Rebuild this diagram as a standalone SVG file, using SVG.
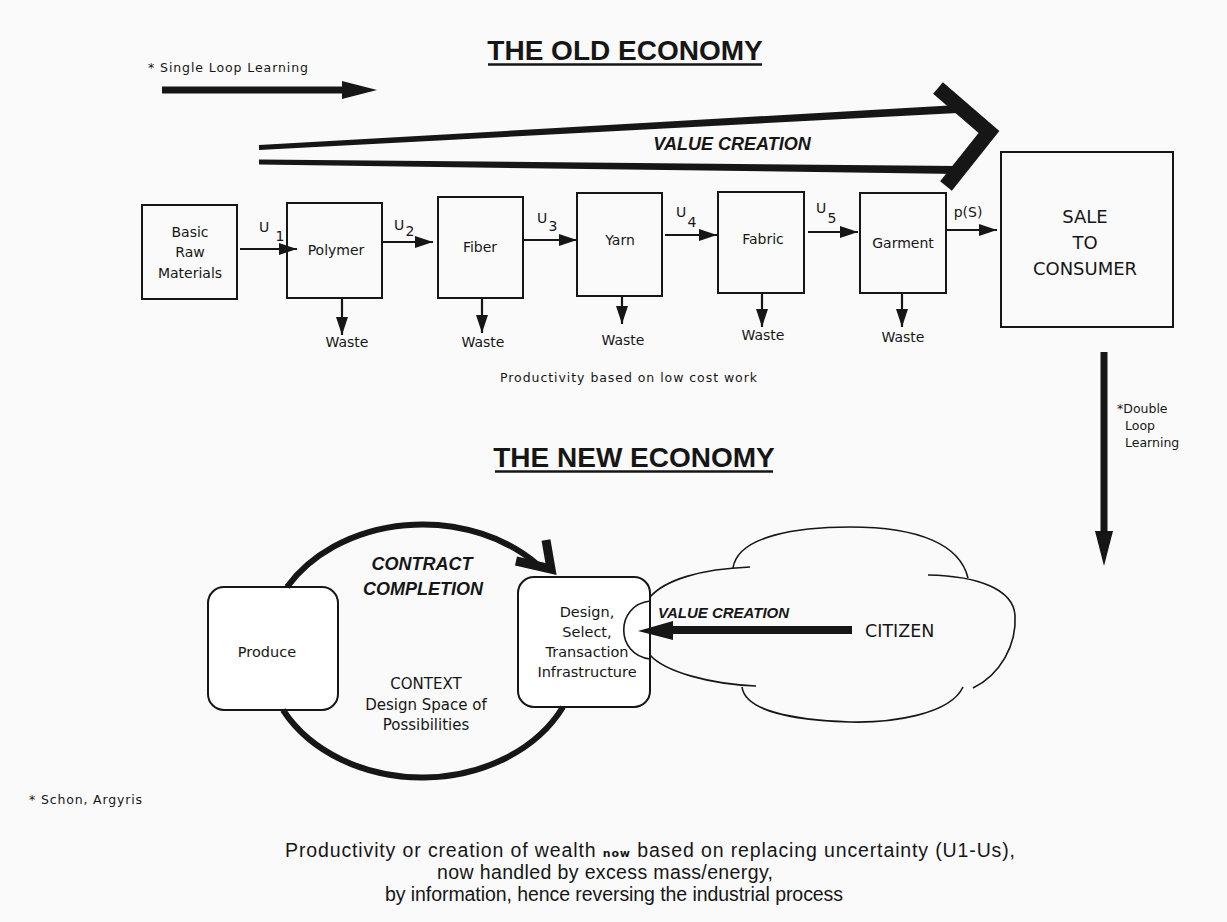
<svg xmlns="http://www.w3.org/2000/svg" width="1227" height="922" viewBox="0 0 1227 922">
<style>
.bg{fill:#fafafa}
.box{fill:none;stroke:#161616;stroke-width:2}
.rbox{fill:#fff;stroke:#161616;stroke-width:2}
.lbl{font-family:"DejaVu Sans",Verdana,sans-serif;font-size:14px;fill:#161616;text-anchor:middle}
.small{font-family:"DejaVu Sans",Verdana,sans-serif;font-size:12.5px;fill:#161616}
.title{font-family:"Liberation Sans",Arial,sans-serif;font-weight:bold;font-size:28px;fill:#161616;text-anchor:middle}
.bi{font-family:"Liberation Sans",Arial,sans-serif;font-weight:bold;font-style:italic;fill:#161616;text-anchor:middle}
.para{font-family:"Liberation Sans Narrow","Liberation Sans",Arial,sans-serif;font-size:19.5px;fill:#161616}
.thin{stroke:#161616;stroke-width:2.2;fill:none}
.thick{stroke:#161616;fill:none}
.head{fill:#161616}
.cloud{fill:none;stroke:#161616;stroke-width:1.6}
.uline{stroke:#161616;stroke-width:2.5}
</style>
<defs>
<marker id="ah" markerUnits="userSpaceOnUse" markerWidth="18" markerHeight="12" refX="18" refY="6" orient="auto">
<path d="M0,0 L18,6 L0,12 z" fill="#161616"/>
</marker>
</defs>
<rect class="bg" x="0" y="0" width="1227" height="922"/>

<g id="title-old">
<text class="title" x="625" y="60">THE OLD ECONOMY</text>
<line class="uline" x1="488" y1="64.5" x2="762" y2="64.5"/>
</g>
<g id="title-new">
<text class="title" x="634" y="467">THE NEW ECONOMY</text>
<line class="uline" x1="495" y1="471.5" x2="773" y2="471.5"/>
</g>

<g id="raw">
<rect class="box" x="142" y="205" width="95" height="94"/>
<text class="lbl" x="190" y="237">Basic</text>
<text class="lbl" x="190" y="257">Raw</text>
<text class="lbl" x="190" y="278">Materials</text>
</g>
<g id="polymer">
<rect class="box" x="287" y="203" width="95" height="95"/>
<text class="lbl" x="336" y="255">Polymer</text>
</g>
<g id="fiber">
<rect class="box" x="438" y="197" width="85" height="101"/>
<text class="lbl" x="480" y="252">Fiber</text>
</g>
<g id="yarn">
<rect class="box" x="577" y="193" width="85" height="103"/>
<text class="lbl" x="620" y="245">Yarn</text>
</g>
<g id="fabric">
<rect class="box" x="718" y="192" width="86" height="101"/>
<text class="lbl" x="763" y="244">Fabric</text>
</g>
<g id="garment">
<rect class="box" x="860" y="193" width="86" height="100"/>
<text class="lbl" x="903" y="248">Garment</text>
</g>
<g id="sale">
<rect class="box" x="1001" y="152" width="172" height="175"/>
<text class="lbl" style="font-size:18px" x="1085" y="223">SALE</text>
<text class="lbl" style="font-size:18px" x="1085" y="249">TO</text>
<text class="lbl" style="font-size:18px" x="1085" y="275">CONSUMER</text>
</g>
<g id="waste-polymer"><text class="lbl" x="347" y="347">Waste</text></g>
<g id="waste-fiber"><text class="lbl" x="483" y="347">Waste</text></g>
<g id="waste-yarn"><text class="lbl" x="623" y="345">Waste</text></g>
<g id="waste-fabric"><text class="lbl" x="763" y="340">Waste</text></g>
<g id="waste-garment"><text class="lbl" x="903" y="342">Waste</text></g>

<g id="notes">
<text class="small" x="148" y="72" textLength="160">* Single Loop Learning</text>
<text class="small" x="500" y="382" textLength="257">Productivity based on low cost work</text>
<text class="small" x="1117" y="413">*Double</text>
<text class="small" x="1125" y="430">Loop</text>
<text class="small" x="1125" y="447">Learning</text>
<text class="small" x="29" y="804" textLength="113">* Schon, Argyris</text>
</g>

<g id="old-value-creation">
<text class="bi" style="font-size:18px" x="732" y="150">VALUE CREATION</text>
</g>

<g id="produce">
<rect class="rbox" x="208" y="587" width="130" height="123" rx="16"/>
<text class="lbl" style="font-size:14.5px" x="267" y="657">Produce</text>
</g>
<g id="design">
<rect class="rbox" x="518" y="577" width="132" height="130" rx="16"/>
<text class="lbl" style="font-size:14.5px" x="587" y="617">Design,</text>
<text class="lbl" style="font-size:14.5px" x="587" y="637">Select,</text>
<text class="lbl" style="font-size:14.5px" x="587" y="657">Transaction</text>
<text class="lbl" style="font-size:14.5px" x="587" y="677">Infrastructure</text>
</g>
<g id="context">
<text class="bi" style="font-size:18px" x="422" y="570">CONTRACT</text>
<text class="bi" style="font-size:18px" x="423" y="595">COMPLETION</text>
<text class="lbl" style="font-size:15px" x="426" y="689">CONTEXT</text>
<text class="lbl" style="font-size:15px" x="426" y="710">Design Space of</text>
<text class="lbl" style="font-size:15px" x="426" y="730">Possibilities</text>
</g>
<g id="citizen">
<path class="cloud" d="M650,597 C665,580 700,569 750,567"/>
<path class="cloud" d="M733,568 C738,535 800,527 850,527 C920,527 960,545 968,578"/>
<path class="cloud" d="M928,575 C980,576 1013,590 1015,615 C1017,645 1000,675 973,688"/>
<path class="cloud" d="M963,687 C950,715 890,723 850,722 C790,720 745,710 742,687"/>
<path class="cloud" d="M756,686 C710,684 665,672 650,655"/>
<path class="cloud" d="M650,601 C615,605 615,655 650,659"/>
<text class="lbl" style="font-size:17.5px;text-anchor:start" x="865" y="637">CITIZEN</text>
<text class="bi" style="font-size:15px;text-anchor:start;font-weight:600" x="658" y="618">VALUE CREATION</text>
</g>

<g id="footer">
<text class="para" x="285" y="857" textLength="730">Productivity or creation of wealth <tspan style="font-family:'DejaVu Sans',sans-serif;font-size:11px;font-weight:bold">now</tspan> based on replacing uncertainty (U1-Us),</text>
<text class="para" x="437" y="879" textLength="336">now handled by excess mass/energy,</text>
<text class="para" x="385" y="901" textLength="458">by information, hence reversing the industrial process</text>
</g>

<g id="connectors">
<line class="thin" x1="240" y1="249" x2="297" y2="249" marker-end="url(#ah)"/>
<line class="thin" x1="382" y1="242" x2="433" y2="242" marker-end="url(#ah)"/>
<line class="thin" x1="523" y1="240" x2="577" y2="240" marker-end="url(#ah)"/>
<line class="thin" x1="665" y1="235" x2="717" y2="235" marker-end="url(#ah)"/>
<line class="thin" x1="808" y1="232" x2="858" y2="232" marker-end="url(#ah)"/>
<line class="thin" x1="946" y1="230" x2="997" y2="230" marker-end="url(#ah)"/>
<text class="lbl" x="264" y="232">U</text><text class="lbl" x="280" y="241">1</text>
<text class="lbl" x="399" y="230">U</text><text class="lbl" x="410" y="236">2</text>
<text class="lbl" x="542" y="223">U</text><text class="lbl" x="553" y="231">3</text>
<text class="lbl" x="681" y="217">U</text><text class="lbl" x="692" y="227">4</text>
<text class="lbl" x="821" y="213">U</text><text class="lbl" x="832" y="223">5</text>
<text class="lbl" x="968" y="217">p(S)</text>
<line class="thin" x1="342" y1="298" x2="342" y2="335" marker-end="url(#ah)"/>
<line class="thin" x1="482" y1="298" x2="482" y2="333" marker-end="url(#ah)"/>
<line class="thin" x1="622" y1="296" x2="622" y2="324" marker-end="url(#ah)"/>
<line class="thin" x1="762" y1="293" x2="762" y2="327" marker-end="url(#ah)"/>
<line class="thin" x1="902" y1="293" x2="902" y2="327" marker-end="url(#ah)"/>
<line class="thick" x1="162" y1="90" x2="345" y2="90" stroke-width="7"/>
<polygon class="head" points="377,90 342,81 342,99"/>
<polygon class="head" points="259,145 259,150 958,113 958,105"/>
<polygon class="head" points="259,159.5 259,164.5 958,174 958,166"/>
<path class="thick" d="M938,88 L989,132 L946,186" stroke-width="15" stroke-linejoin="miter"/>
<line class="thick" x1="1104" y1="352" x2="1104" y2="535" stroke-width="7"/>
<polygon class="head" points="1104,566 1095,531 1113,531"/>
<path class="thick" d="M287,587 A157,126 0 0 1 538,565" stroke-width="6"/>
<path class="thick" d="M563,707 A157,126 0 0 1 283,710" stroke-width="6"/>
<path class="thick" d="M546,540 L551,569 L516,561" stroke-width="9" stroke-linejoin="miter"/>
<line class="thick" x1="852" y1="630" x2="668" y2="630" stroke-width="8"/>
<polygon class="head" points="638,631 673,621 673,640"/>
</g>
</svg>
